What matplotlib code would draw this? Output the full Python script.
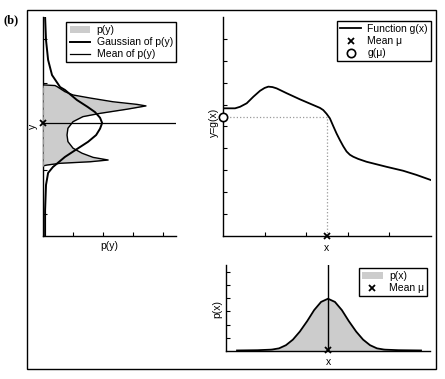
import numpy as np
import matplotlib
matplotlib.use("Agg")
from matplotlib import pyplot as plt
from matplotlib.patches import Rectangle

plt.rcParams['font.family'] = ['Liberation Sans', 'DejaVu Sans']
plt.rcParams['font.size'] = 7.5

# function g(x)
gx = [0.00, 0.29, 0.41, 0.57, 0.73, 0.89, 1.00, 1.09, 1.19, 1.29, 1.53, 1.85,
      2.17, 2.33, 2.41, 2.49, 2.57, 2.65, 2.73, 2.81, 2.89, 2.97, 3.05, 3.13,
      3.25, 3.45, 3.93, 4.33, 4.65, 4.99]
gy = [5.83, 5.83, 5.90, 6.06, 6.36, 6.63, 6.76, 6.82, 6.80, 6.74, 6.52, 6.24,
      5.98, 5.85, 5.75, 5.58, 5.37, 5.02, 4.68, 4.38, 4.10, 3.86, 3.71, 3.62,
      3.52, 3.39, 3.16, 2.98, 2.79, 2.56]
mu = 2.5
g_mu = 5.45

# p(y) profile
py_y = [6.90, 6.87, 6.82, 6.59, 6.44, 6.30, 6.13, 6.01, 5.94, 5.79, 5.60, 5.45,
        5.22, 4.92, 4.61, 4.31, 4.01, 3.78, 3.59, 3.47, 3.39, 3.32, 3.24, 3.20]
py_p = [0.00, 0.40, 0.47, 0.73, 1.00, 1.57, 2.33, 3.13, 3.43, 2.80, 1.90, 1.33,
        1.00, 0.83, 0.80, 0.83, 1.00, 1.30, 1.67, 2.17, 1.57, 0.57, 0.13, 0.00]

# Gaussian of p(y)
gauss_y = [10.0, 8.95, 8.04, 7.35, 6.80, 6.67, 6.21, 5.90, 5.66, 5.40, 5.16,
           4.90, 4.61, 4.30, 4.06, 3.61, 3.15, 2.88, 2.33, 1.19, 0.0]
gauss_p = [0.07, 0.10, 0.17, 0.30, 0.57, 0.73, 1.13, 1.48, 1.73, 1.90, 1.97,
           1.90, 1.77, 1.50, 1.23, 0.73, 0.33, 0.17, 0.10, 0.07, 0.07]
mean_py = 5.16

# p(x)
px_x = [0.27, 0.77, 1.09, 1.13, 1.30, 1.47, 1.64, 1.81, 1.99, 2.16, 2.33, 2.50,
        2.67, 2.84, 3.01, 3.19, 3.36, 3.53, 3.70, 3.87, 3.91, 4.23, 4.78]
px_p = [0.04, 0.06, 0.10, 0.11, 0.20, 0.44, 0.86, 1.47, 2.26, 3.09, 3.71, 3.95,
        3.71, 3.09, 2.26, 1.47, 0.86, 0.44, 0.20, 0.11, 0.10, 0.06, 0.04]

W, H = 445, 379
fig = plt.figure(figsize=(W / 100, H / 100), dpi=100)


def axes_px(x0, x1, y0, y1):
    return fig.add_axes([x0 / W, (H - y1) / H, (x1 - x0) / W, (y1 - y0) / H])


def style(ax):
    for s in ['top', 'right']:
        ax.spines[s].set_visible(False)
    for s in ['left', 'bottom']:
        ax.spines[s].set_linewidth(1.0)
    ax.tick_params(direction='in', length=3, width=0.8, labelleft=False,
                   labelbottom=False)


leg_kw = dict(fancybox=False, edgecolor='black', framealpha=1, borderpad=0.3,
              labelspacing=0.2, handlelength=2.0, handletextpad=0.6,
              borderaxespad=0, fontsize=7.5)

# left panel: p(y)
ax1 = axes_px(43, 176, 17, 236)
style(ax1)
ax1.fill_betweenx(py_y, 0, py_p, color='#cccccc', lw=0, label='p(y)', zorder=3)
ax1.plot(py_p, py_y, color='black', lw=1.0, zorder=4)
ax1.plot([0, 0], [py_y[-1], py_y[0]], color='0.6', lw=1.0, ls='--', zorder=4)
ax1.plot(gauss_p, gauss_y, color='black', lw=1.4, label='Gaussian of p(y)', zorder=5)
ax1.axhline(mean_py, color='black', lw=0.9, label='Mean of p(y)', zorder=5)
ax1.plot([0], [mean_py], 'x', color='black', ms=4, mew=1.3, clip_on=False, zorder=6)
ax1.set_xlim(0, 4.43)
ax1.set_ylim(0, 10)
ax1.set_xticks([1, 2, 3, 4])
ax1.set_yticks([1, 3, 5, 7, 9])
ax1.set_xlabel('p(y)')
ax1.set_ylabel('y')
ax1.xaxis.set_label_coords(0.5, -0.025)
ax1.yaxis.set_label_coords(-0.035, 0.5)
ax1.legend(loc='upper right', bbox_to_anchor=(1.0, 0.977), **leg_kw)

# right panel: g(x)
ax2 = axes_px(223, 431, 17, 236)
style(ax2)
ax2.plot(gx, gy, color='black', lw=1.3, label='Function g(x)')
ax2.plot([0, mu], [g_mu, g_mu], color='0.6', ls=':', lw=0.9)
ax2.plot([mu, mu], [0, g_mu], color='0.6', ls=':', lw=0.9)
ax2.plot([mu], [0], 'x', color='black', ms=4, mew=1.3, clip_on=False,
         label='Mean \u03bc', zorder=6)
ax2.plot([0], [g_mu], 'o', mfc='white', mec='black', ms=6, mew=1.2,
         clip_on=False, label='g(\u03bc)', zorder=6)
ax2.set_xlim(0, 5)
ax2.set_ylim(0, 10)
ax2.set_xticks([1, 2, 3, 4])
ax2.set_yticks(range(1, 10))
ax2.set_xlabel('x')
ax2.set_ylabel('y=g(x)')
ax2.xaxis.set_label_coords(0.5, -0.03)
ax2.yaxis.set_label_coords(-0.02, 0.52)
ax2.legend(loc='upper right', bbox_to_anchor=(1.0, 0.982), **leg_kw)

# bottom panel: p(x)
ax3 = axes_px(226, 430, 265, 351)
style(ax3)
ax3.fill_between(px_x, 0, px_p, color='#cccccc', lw=0, label='p(x)')
ax3.plot(px_x, px_p, color='black', lw=1.3)
ax3.axvline(mu, color='black', lw=1.0)
ax3.plot([mu], [0.1], 'x', color='black', ms=4, mew=1.3, clip_on=False,
         label='Mean \u03bc', zorder=6)
ax3.set_xlim(0, 5)
ax3.set_ylim(0, 6.5)
ax3.set_xticks([])
ax3.set_yticks(range(1, 7))
ax3.set_xlabel('x')
ax3.set_ylabel('p(x)')
ax3.xaxis.set_label_coords(0.5, -0.075)
ax3.yaxis.set_label_coords(-0.02, 0.49)
ax3.legend(loc='upper right', bbox_to_anchor=(0.985, 0.965), **leg_kw)

# outer frame and panel tag
fig.patches.append(Rectangle((27 / W, (H - 369) / H), 409 / W, 359 / H,
                             transform=fig.transFigure, fill=False,
                             edgecolor='black', lw=1.0))
fig.text(11 / W, 1 - 20 / H, '(b)', family=['Liberation Serif', 'DejaVu Serif'],
         weight='bold', fontsize=9, ha='center', va='center')

fig.savefig('out.png', dpi=100)
